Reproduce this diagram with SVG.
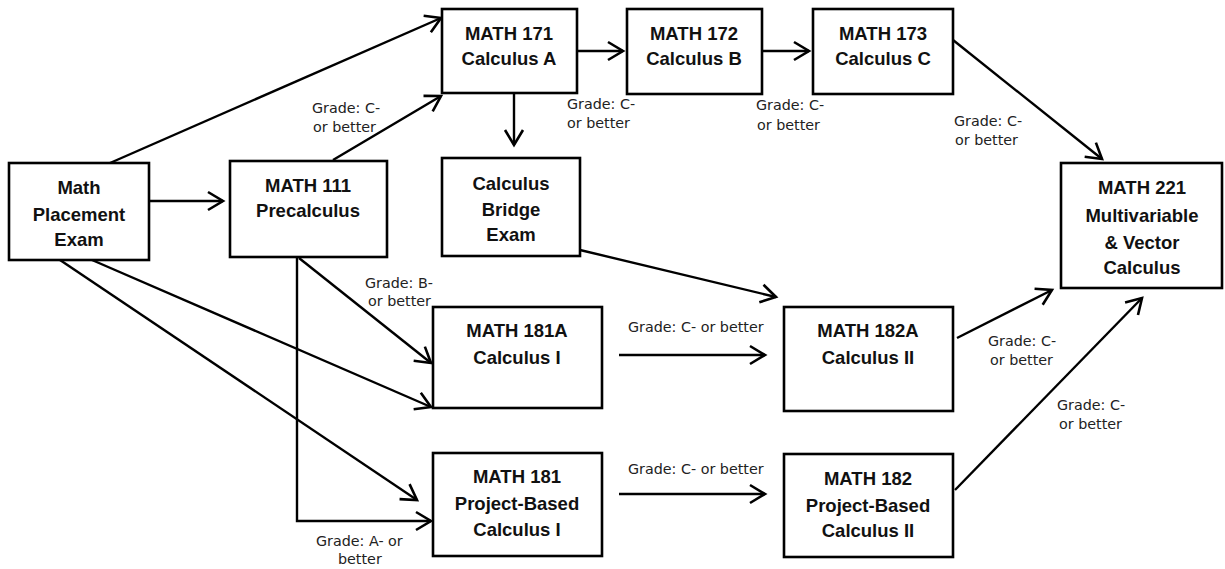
<svg xmlns="http://www.w3.org/2000/svg" width="1225" height="569" viewBox="0 0 1225 569">
<style>
.box{fill:#fff;stroke:#000;stroke-width:2.6}
.t{font-family:"Liberation Sans",Arial,sans-serif;font-weight:bold;font-size:18.5px;fill:#111;text-anchor:middle}
.l{font-family:"DejaVu Sans",Verdana,sans-serif;font-size:14.3px;fill:#222}
.c{fill:none;stroke:#000;stroke-width:2.4}
</style>
<defs>
<marker id="a" markerUnits="userSpaceOnUse" markerWidth="20" markerHeight="22" refX="16" refY="9" orient="auto" overflow="visible">
<path d="M1,0 L16,9 L1,18" fill="none" stroke="#000" stroke-width="2.6"/>
</marker>
</defs>
<rect width="1225" height="569" fill="#fff"/>
<g id="connectors">
<line class="c" x1="110" y1="163" x2="441" y2="18" marker-end="url(#a)"/>
<line class="c" x1="149" y1="201" x2="223" y2="201" marker-end="url(#a)"/>
<line class="c" x1="333" y1="160" x2="441" y2="96" marker-end="url(#a)"/>
<line class="c" x1="92" y1="260" x2="431" y2="407" marker-end="url(#a)"/>
<line class="c" x1="60" y1="260" x2="417" y2="500" marker-end="url(#a)"/>
<line class="c" x1="299" y1="258" x2="431" y2="363" marker-end="url(#a)"/>
<polyline class="c" points="297,257 297,521 431,521" marker-end="url(#a)"/>
<line class="c" x1="577" y1="51" x2="623" y2="51" marker-end="url(#a)"/>
<line class="c" x1="762" y1="51" x2="809" y2="51" marker-end="url(#a)"/>
<line class="c" x1="514" y1="93" x2="514" y2="145" marker-end="url(#a)"/>
<line class="c" x1="580" y1="250" x2="776" y2="297" marker-end="url(#a)"/>
<line class="c" x1="619" y1="355" x2="765" y2="355" marker-end="url(#a)"/>
<line class="c" x1="619" y1="494" x2="765" y2="494" marker-end="url(#a)"/>
<line class="c" x1="953" y1="40" x2="1102" y2="159" marker-end="url(#a)"/>
<line class="c" x1="957" y1="338" x2="1052" y2="290" marker-end="url(#a)"/>
<line class="c" x1="955" y1="490" x2="1142" y2="298" marker-end="url(#a)"/>
</g>
<g id="labels">
<text class="l" x="312" y="113">Grade: C-</text>
<text class="l" x="313" y="132">or better</text>
<text class="l" x="567" y="109">Grade: C-</text>
<text class="l" x="567" y="128">or better</text>
<text class="l" x="756" y="110">Grade: C-</text>
<text class="l" x="757" y="130">or better</text>
<text class="l" x="954" y="126">Grade: C-</text>
<text class="l" x="955" y="145">or better</text>
<text class="l" x="365" y="288">Grade: B-</text>
<text class="l" x="368" y="306">or better</text>
<text class="l" x="628" y="332">Grade: C- or better</text>
<text class="l" x="628" y="474">Grade: C- or better</text>
<text class="l" x="988" y="346">Grade: C-</text>
<text class="l" x="990" y="365">or better</text>
<text class="l" x="1057" y="410">Grade: C-</text>
<text class="l" x="1059" y="429">or better</text>
<text class="l" x="316" y="546">Grade: A- or</text>
<text class="l" x="338" y="564">better</text>
</g>
<g id="placement">
<rect class="box" x="9" y="163" width="140" height="97"/>
<text class="t" x="79" y="194">Math</text>
<text class="t" x="79" y="221">Placement</text>
<text class="t" x="79" y="246">Exam</text>
</g>
<g id="math111">
<rect class="box" x="230" y="161" width="157" height="96"/>
<text class="t" x="308" y="192">MATH 111</text>
<text class="t" x="308" y="217">Precalculus</text>
</g>
<g id="math171">
<rect class="box" x="442" y="9" width="135" height="84"/>
<text class="t" x="509" y="40">MATH 171</text>
<text class="t" x="509" y="65">Calculus A</text>
</g>
<g id="math172">
<rect class="box" x="627" y="9" width="135" height="85"/>
<text class="t" x="694" y="40">MATH 172</text>
<text class="t" x="694" y="65">Calculus B</text>
</g>
<g id="math173">
<rect class="box" x="813" y="9" width="140" height="85"/>
<text class="t" x="883" y="40">MATH 173</text>
<text class="t" x="883" y="65">Calculus C</text>
</g>
<g id="bridge">
<rect class="box" x="442" y="158" width="138" height="98"/>
<text class="t" x="511" y="190">Calculus</text>
<text class="t" x="511" y="216">Bridge</text>
<text class="t" x="511" y="241">Exam</text>
</g>
<g id="math181a">
<rect class="box" x="433" y="307" width="169" height="101"/>
<text class="t" x="517" y="337">MATH 181A</text>
<text class="t" x="517" y="364">Calculus I</text>
</g>
<g id="math181">
<rect class="box" x="433" y="453" width="169" height="103"/>
<text class="t" x="517" y="483">MATH 181</text>
<text class="t" x="517" y="510">Project-Based</text>
<text class="t" x="517" y="536">Calculus I</text>
</g>
<g id="math182a">
<rect class="box" x="784" y="307" width="169" height="104"/>
<text class="t" x="868" y="337">MATH 182A</text>
<text class="t" x="868" y="364">Calculus II</text>
</g>
<g id="math182">
<rect class="box" x="784" y="454" width="169" height="103"/>
<text class="t" x="868" y="485">MATH 182</text>
<text class="t" x="868" y="512">Project-Based</text>
<text class="t" x="868" y="537">Calculus II</text>
</g>
<g id="math221">
<rect class="box" x="1061" y="163" width="161" height="125"/>
<text class="t" x="1142" y="194">MATH 221</text>
<text class="t" x="1142" y="222">Multivariable</text>
<text class="t" x="1142" y="249">&amp; Vector</text>
<text class="t" x="1142" y="274">Calculus</text>
</g>
</svg>
